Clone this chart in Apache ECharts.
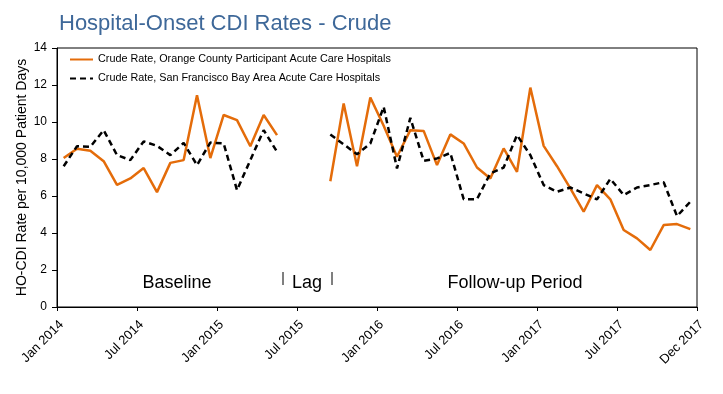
<!DOCTYPE html>
<html>
<head>
<meta charset="utf-8">
<script src="https://cdn.jsdelivr.net/npm/echarts@6/dist/echarts.min.js"></script>
<style>html,body{margin:0;padding:0;background:#fff;}#c{width:723px;height:394px;}</style>
</head>
<body>
<div id="c"></div>
<script>
const months = ["Jan 2014","Feb 2014","Mar 2014","Apr 2014","May 2014","Jun 2014","Jul 2014","Aug 2014","Sep 2014","Oct 2014","Nov 2014","Dec 2014",
"Jan 2015","Feb 2015","Mar 2015","Apr 2015","May 2015","Jun 2015","Jul 2015","Aug 2015","Sep 2015","Oct 2015","Nov 2015","Dec 2015",
"Jan 2016","Feb 2016","Mar 2016","Apr 2016","May 2016","Jun 2016","Jul 2016","Aug 2016","Sep 2016","Oct 2016","Nov 2016","Dec 2016",
"Jan 2017","Feb 2017","Mar 2017","Apr 2017","May 2017","Jun 2017","Jul 2017","Aug 2017","Sep 2017","Oct 2017","Nov 2017","Dec 2017"];
const tickLabels = ["Jan 2014","Jul 2014","Jan 2015","Jul 2015","Jan 2016","Jul 2016","Jan 2017","Jul 2017","Dec 2017"];
const orangeCounty = [8.05,8.55,8.44,7.88,6.60,6.95,7.51,6.21,7.79,7.94,11.45,8.05,10.38,10.10,8.69,10.38,9.29,
null,null,null,
6.80,11.0,7.61,11.32,9.8,8.12,9.56,9.52,7.67,9.33,8.84,7.54,6.95,8.57,7.31,11.86,8.71,7.61,6.41,5.15,6.59,5.82,4.16,3.71,3.08,4.43,4.48,4.21];
const sfBayArea = [7.61,8.69,8.66,9.56,8.21,7.94,8.95,8.71,8.21,8.87,7.67,8.89,8.84,6.32,7.94,9.56,8.39,
null,null,null,
9.33,8.79,8.26,8.84,10.82,7.49,10.22,7.90,8.03,8.33,5.83,5.83,7.22,7.54,9.29,8.21,6.59,6.23,6.46,6.14,5.82,6.93,6.05,6.46,6.59,6.75,4.91,5.69];
const seriesNames = ["Crude Rate, Orange County Participant Acute Care Hospitals","Crude Rate, San Francisco Bay Area Acute Care Hospitals"];
const periodLabels = ["Baseline","Lag","Follow-up Period"];

const toXY = arr => arr.map((v,i) => [i + 0.5, v]);
const FONT = "Liberation Sans, Arial, sans-serif";
const annFont = '18px Liberation Sans, Arial, sans-serif';

const chart = echarts.init(document.getElementById('c'), null, {renderer:'canvas'});
chart.setOption({
  animation:false,
  backgroundColor:'#fff',
  title:{text:'Hospital-Onset CDI Rates - Crude', left:54, top:8,
    textStyle:{fontFamily:FONT, fontSize:22, fontWeight:'normal', color:'#3E6899'}},
  legend:{orient:'vertical', left:64, top:49, itemWidth:23, itemHeight:10, itemGap:8,
    itemStyle:{opacity:0},
    textStyle:{fontFamily:FONT, fontSize:10.8, color:'#000'},
    data:seriesNames},
  grid:{left:57, right:26, top:48, bottom:87, show:true, borderColor:'#000', borderWidth:1, containLabel:false},
  xAxis:{type:'value', min:0, max:48, interval:6,
    axisLine:{lineStyle:{color:'#000', width:1}},
    axisTick:{show:true, length:4, lineStyle:{color:'#000'}},
    splitLine:{show:false},
    axisLabel:{rotate:45, fontFamily:FONT, fontSize:13, color:'#000', margin:11, verticalAlign:'top',
      formatter: v => tickLabels[Math.round(v/6)] }},
  yAxis:{type:'value', min:0, max:14, interval:2,
    name:'HO-CDI Rate per 10,000 Patient Days', nameLocation:'middle', nameGap:28, nameRotate:90,
    nameMoveOverlap:false,
    nameTextStyle:{fontFamily:FONT, fontSize:14, color:'#000'},
    axisLine:{show:true, lineStyle:{color:'#000', width:1}},
    axisTick:{show:true, length:5, lineStyle:{color:'#000'}},
    splitLine:{show:false},
    axisLabel:{fontFamily:FONT, fontSize:12, color:'#000', margin:10}},
  series:[
    {name:seriesNames[0], type:'line', data:toXY(orangeCounty), symbol:'none', connectNulls:false,
      lineStyle:{color:'#E46C0A', width:2.5}, itemStyle:{color:'#E46C0A'}},
    {name:seriesNames[1], type:'line', data:toXY(sfBayArea), symbol:'none', connectNulls:false,
      lineStyle:{color:'#000', width:2.5, type:[6,4]}, itemStyle:{color:'#000'}}
  ],
  graphic:[
    {type:'text', x:177, y:283, style:{text:periodLabels[0], font:annFont, fill:'#000', textAlign:'center', textVerticalAlign:'middle'}},
    {type:'text', x:307, y:283, style:{text:periodLabels[1], font:annFont, fill:'#000', textAlign:'center', textVerticalAlign:'middle'}},
    {type:'text', x:515, y:283, style:{text:periodLabels[2], font:annFont, fill:'#000', textAlign:'center', textVerticalAlign:'middle'}},
    {type:'line', shape:{x1:283, y1:272, x2:283, y2:285}, style:{stroke:'#000', lineWidth:1}},
    {type:'line', shape:{x1:332, y1:272, x2:332, y2:285}, style:{stroke:'#000', lineWidth:1}}
  ]
});
</script>
</body>
</html>
